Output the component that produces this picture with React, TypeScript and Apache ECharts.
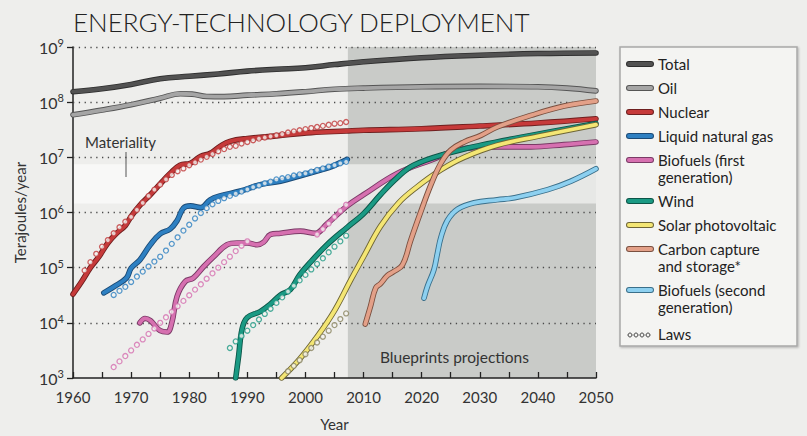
import React, { useEffect, useRef } from "react";
import * as echarts from "echarts";

type P = [number, number];

// ---------- data (year, terajoules/year) ----------
const total: P[] = [[1960,1.55e8],[1965,1.75e8],[1970,2.1e8],[1975,2.65e8],[1980,2.95e8],[1985,3.25e8],[1990,3.65e8],[1995,3.95e8],[2000,4.2e8],[2005,4.8e8],[2010,5.4e8],[2020,6.4e8],[2030,7.1e8],[2040,7.6e8],[2050,7.8e8]];
const oil: P[] = [[1960,5.9e7],[1965,7.2e7],[1970,9.0e7],[1975,1.18e8],[1978.5,1.42e8],[1980.5,1.4e8],[1983,1.27e8],[1986,1.26e8],[1990,1.34e8],[1995,1.42e8],[2000,1.55e8],[2005,1.72e8],[2010,1.8e8],[2020,1.9e8],[2030,1.93e8],[2040,1.9e8],[2045,1.8e8],[2050,1.6e8]];
const nuclear: P[] = [[1960,3.3e4],[1961.5,5.6e4],[1963,1.0e5],[1964.5,1.6e5],[1966,2.8e5],[1967.5,4.2e5],[1969,5.8e5],[1970,8.5e5],[1971.5,1.35e6],[1973.3,2.1e6],[1975,3.3e6],[1976.7,5.1e6],[1978.4,7.2e6],[1980.2,7.8e6],[1982,1.05e7],[1983.6,1.18e7],[1985.3,1.58e7],[1987,1.95e7],[1990,2.2e7],[1995,2.45e7],[2001,2.8e7],[2007,3.0e7],[2010,3.1e7],[2020,3.3e7],[2030,3.7e7],[2040,4.2e7],[2050,5.0e7]];
const lng: P[] = [[1965.3,3.5e4],[1967,4.5e4],[1969.2,6.5e4],[1970,9.8e4],[1971.5,1.38e5],[1973.3,2.6e5],[1975,4.1e5],[1976.7,5.0e5],[1977.9,7.1e5],[1979,1.2e6],[1980.2,1.32e6],[1982,1.23e6],[1983.6,1.7e6],[1985.3,2.0e6],[1988.8,2.45e6],[1992.2,3.2e6],[1995.7,3.7e6],[1999,4.6e6],[2002.6,5.9e6],[2004.5,6.8e6],[2007.2,9.2e6]];
const bio1: P[] = [[1971.5,1.0e4],[1972.4,1.2e4],[1973.3,1.1e4],[1975,7.2e3],[1976.2,6.8e3],[1977,1.0e4],[1977.9,3.0e4],[1979.3,5.6e4],[1980.7,6.5e4],[1982.5,1.05e5],[1984.2,1.58e5],[1986.5,2.6e5],[1988.2,2.8e5],[1990,2.8e5],[1991.7,2.6e5],[1992.8,2.9e5],[1994,4.0e5],[1995.7,4.2e5],[1999.1,4.6e5],[2001.7,4.2e5],[2003.7,6.2e5],[2007.2,1.32e6],[2010,2.1e6],[2015.8,5.1e6],[2021.6,8.9e6],[2027.3,1.45e7],[2033,1.55e7],[2038.8,1.55e7],[2044.5,1.7e7],[2050,1.9e7]];
const wind: P[] = [[1988,1.0e3],[1988.5,2.5e3],[1989.1,7.8e3],[1990,1.25e4],[1992.2,1.6e4],[1994,2.2e4],[1995.7,3.2e4],[1997.4,4.0e4],[1999,7.4e4],[2001,1.3e5],[2003.7,2.6e5],[2007.2,5.4e5],[2010,9.5e5],[2012.9,2.1e6],[2015.8,4.3e6],[2018.6,7.2e6],[2024.4,1.18e7],[2030.2,1.66e7],[2038.8,2.5e7],[2050,4.1e7]];
const solar: P[] = [[1995.9,1.0e3],[1999,2.2e3],[2002,5.6e3],[2005,1.66e4],[2007.8,6.0e4],[2010,1.58e5],[2012.9,5.6e5],[2016,1.48e6],[2019,2.8e6],[2023.3,5.9e6],[2027.3,1.0e7],[2033,1.66e7],[2040,2.4e7],[2050,3.9e7]];
const ccs: P[] = [[2010.3,9.5e3],[2011.2,2.0e4],[2012.1,4.3e4],[2012.9,5.1e4],[2014.1,7.2e4],[2015.2,8.5e4],[2016.7,1.12e5],[2018.1,3.1e5],[2019.8,1.0e6],[2021.6,3.2e6],[2023.3,7.8e6],[2025,1.35e7],[2027.3,1.9e7],[2030.2,2.5e7],[2033,3.55e7],[2038.8,5.75e7],[2044.5,8.5e7],[2050,1.05e8]];
const bio2: P[] = [[2020.4,2.8e4],[2021,4.6e4],[2022.1,9.1e4],[2022.7,1.8e5],[2023.3,3.5e5],[2024.4,7.1e5],[2026.2,1.15e6],[2029,1.5e6],[2033,1.7e6],[2036,1.85e6],[2041.7,2.6e6],[2045.7,3.7e6],[2050,6.2e6]];

// laws (fitted trends, drawn as hollow circles)
const nuclearLaw: P[] = [[1962,8.9e4],[1963,1.26e5],[1964,1.78e5],[1965,2.4e5],[1966,3.16e5],[1967,4.2e5],[1968,5.4e5],[1969,6.8e5],[1970,8.3e5],[1971,1.12e6],[1972,1.5e6],[1973,2.0e6],[1974,2.6e6],[1975,3.2e6],[1976,4.0e6],[1977,4.8e6],[1978,5.6e6],[1979,6.3e6],[1980,7.2e6],[1981,8.1e6],[1982,9.1e6],[1983,1.02e7],[1984,1.15e7],[1985,1.29e7],[1986,1.41e7],[1987,1.55e7],[1988,1.62e7],[1989,1.78e7],[1990,1.9e7],[1991,2.04e7],[1992,2.19e7],[1993,2.29e7],[1994,2.4e7],[1995,2.51e7],[1996,2.63e7],[1997,2.82e7],[1998,2.95e7],[1999,3.09e7],[2000,3.24e7],[2001,3.39e7],[2002,3.55e7],[2003,3.72e7],[2004,3.89e7],[2005,4.07e7],[2006,4.17e7],[2007,4.37e7]];
const lngLaw: P[] = [[1967,3.2e4],[1968,3.8e4],[1969,4.5e4],[1970,5.5e4],[1971,6.9e4],[1972,8.5e4],[1973,1.05e5],[1974,1.29e5],[1975,1.58e5],[1976,2.04e5],[1977,2.7e5],[1978,3.55e5],[1979,4.7e5],[1980,6.0e5],[1981,7.8e5],[1982,9.8e5],[1983,1.2e6],[1984,1.41e6],[1985,1.62e6],[1986,1.82e6],[1987,2.0e6],[1988,2.19e6],[1989,2.4e6],[1990,2.63e6],[1991,2.88e6],[1992,3.09e6],[1993,3.39e6],[1994,3.63e6],[1995,3.98e6],[1996,4.17e6],[1997,4.37e6],[1998,4.68e6],[1999,4.9e6],[2000,5.13e6],[2001,5.5e6],[2002,5.9e6],[2003,6.3e6],[2004,6.8e6],[2005,7.2e6],[2006,7.8e6],[2007,8.3e6]];
const bio1Law: P[] = [[1967,1.58e3],[1968,2.0e3],[1969,2.5e3],[1970,3.16e3],[1971,4.0e3],[1972,5.0e3],[1973,6.3e3],[1974,7.9e3],[1975,1.0e4],[1976,1.26e4],[1977,1.58e4],[1978,2.0e4],[1979,2.5e4],[1980,3.16e4],[1981,4.0e4],[1982,5.0e4],[1983,6.3e4],[1984,7.9e4],[1985,1.0e5],[1986,1.26e5],[1987,1.58e5],[1988,2.0e5],[1989,2.5e5],[1990,3.0e5]];
const bio1Law2: P[] = [[2002,4.0e5],[2003,5.0e5],[2004,6.3e5],[2005,8.3e5],[2006,1.07e6],[2007,1.38e6]];
const windLaw: P[] = [[1987,3.5e3],[1988,4.6e3],[1989,5.8e3],[1990,7.2e3],[1991,9.1e3],[1992,1.15e4],[1993,1.45e4],[1994,1.8e4],[1995,2.3e4],[1996,2.9e4],[1997,3.7e4],[1998,4.7e4],[1999,5.9e4],[2000,7.4e4],[2001,9.3e4],[2002,1.17e5],[2003,1.48e5],[2004,1.9e5],[2005,2.4e5],[2006,3.0e5],[2007,3.8e5]];
const solarLaw: P[] = [[1997,1.32e3],[1998,1.66e3],[1999,2.1e3],[2000,2.7e3],[2001,3.5e3],[2002,4.4e3],[2003,5.6e3],[2004,7.2e3],[2005,9.1e3],[2006,1.17e4],[2007,1.48e4]];

// gridline levels and shaded zones
const gridLevels = [1e4, 1e5, 1e6, 1e7, 1e8, 1e9];
const projectionStart = 2007.3;
const projectionEnd = 2050;
const materialityLow = 1.45e6;
const materialityHigh = 7.5e6;

// ---------- styling ----------
const FONT = "Lato, 'Open Sans', sans-serif";
const lines = [
  { name: "Total", data: total, color: "#525252", edge: "#2e2e2e" },
  { name: "Oil", data: oil, color: "#a5a5a5", edge: "#555555" },
  { name: "Nuclear", data: nuclear, color: "#c63a3a", edge: "#6e1f1f" },
  { name: "Liquid natural gas", data: lng, color: "#2e80c2", edge: "#1b4a76" },
  { name: "Biofuels (first\ngeneration)", data: bio1, color: "#d670b0", edge: "#7a3a66" },
  { name: "Wind", data: wind, color: "#1a9a84", edge: "#0c5548" },
  { name: "Solar photovoltaic", data: solar, color: "#f4e674", edge: "#6e6535" },
  { name: "Carbon capture\nand storage*", data: ccs, color: "#e3a088", edge: "#7a5040" },
  { name: "Biofuels (second\ngeneration)", data: bio2, color: "#8dd0f0", edge: "#3a6f8a" },
];
const laws = [
  { data: nuclearLaw, color: "#c0393b" },
  { data: lngLaw, color: "#2d7fc1" },
  { data: bio1Law, color: "#d46fb0" },
  { data: bio1Law2, color: "#d46fb0" },
  { data: windLaw, color: "#1f9a84" },
  { data: solarLaw, color: "#8a8560" },
];

function buildOption() {
  const series: any[] = [];
  series.push({
    type: "line",
    data: [],
    z: -1,
    silent: true,
    markArea: {
      silent: true,
      z: -1,
      data: [
        [{ xAxis: projectionStart, yAxis: 1e3, itemStyle: { color: "#c9cbc8" } }, { xAxis: projectionEnd, yAxis: 1e9 }],
        [{ xAxis: 1960, yAxis: materialityLow, itemStyle: { color: "#f8f8f7" } }, { xAxis: projectionStart, yAxis: materialityHigh }],
        [{ xAxis: projectionStart, yAxis: materialityLow, itemStyle: { color: "#e7e8e6" } }, { xAxis: projectionEnd, yAxis: materialityHigh }],
      ],
    },
  });
  series.push({
    type: "line",
    data: [],
    z: 1,
    silent: true,
    markLine: {
      silent: true,
      z: 1,
      symbol: "none",
      label: { show: false },
      lineStyle: { color: "#4a4a4a", width: 1.3, type: [1.3, 4.5] },
      data: gridLevels.map((v) => ({ yAxis: v })),
    },
  });
  lines.forEach((l) => {
    const common = { type: "line", data: l.data, smooth: 0.4, symbol: "none", silent: true, z: 3 };
    series.push({ ...common, name: l.name + "-edge", lineStyle: { color: l.edge, width: 5.6, cap: "round", join: "round" } });
    series.push({ ...common, name: l.name, lineStyle: { color: l.color, width: 3.8, cap: "round", join: "round" } });
  });
  laws.forEach((w, i) => {
    series.push({
      type: "scatter",
      name: "Laws" + i,
      data: w.data,
      symbol: "circle",
      symbolSize: 5,
      z: 5,
      silent: true,
      itemStyle: { color: "#f4f2f0", borderColor: w.color, borderWidth: 1.3 },
    });
  });

  // legend graphic
  const legendG: any[] = [];
  legendG.push({
    type: "rect",
    shape: { x: 620, y: 47, width: 177, height: 299 },
    style: { fill: "#f4f4f2", stroke: "#a8a8a8", lineWidth: 1.5, shadowBlur: 2, shadowColor: "rgba(0,0,0,0.25)", shadowOffsetX: 1, shadowOffsetY: 1 },
  });
  let y = 64;
  lines.forEach((l) => {
    legendG.push({ type: "line", shape: { x1: 629, y1: y, x2: 651, y2: y }, style: { stroke: l.edge, lineWidth: 6, lineCap: "round" } });
    legendG.push({ type: "line", shape: { x1: 629, y1: y, x2: 651, y2: y }, style: { stroke: l.color, lineWidth: 4, lineCap: "round" } });
    legendG.push({ type: "text", x: 658, y: y - 9, style: { text: l.name, fontSize: 15, fontFamily: FONT, fill: "#222", lineHeight: 17, verticalAlign: "top" } });
    const n = l.name.split("\n").length;
    y += 24 + (n - 1) * 17;
  });
  y += 3;
  [630, 636, 642, 648].forEach((cx) => {
    legendG.push({ type: "circle", shape: { cx, cy: y + 1, r: 2 }, style: { fill: "#f4f4f2", stroke: "#444", lineWidth: 1 } });
  });
  legendG.push({ type: "text", x: 658, y: y - 9, style: { text: "Laws", fontSize: 15, fontFamily: FONT, fill: "#222", lineHeight: 17, verticalAlign: "top" } });

  return {
    animation: false,
    backgroundColor: "#eeeeec",
    textStyle: { fontFamily: FONT },
    title: {
      text: "ENERGY-TECHNOLOGY DEPLOYMENT",
      left: 68,
      top: 4,
      textStyle: { fontSize: 26, fontWeight: 300, color: "#222", fontFamily: FONT },
    },
    grid: { left: 73, right: 211, top: 47, bottom: 53 },
    xAxis: {
      type: "value",
      min: 1960,
      max: 2050,
      interval: 5,
      name: "Year",
      nameLocation: "middle",
      nameGap: 38,
      nameTextStyle: { fontSize: 15, color: "#333", fontFamily: FONT },
      axisLine: { show: true, lineStyle: { color: "#222", width: 1.5 } },
      axisTick: { show: true, inside: true, length: 6, lineStyle: { color: "#222", width: 1.3 } },
      axisLabel: {
        formatter: (v: number) => (v % 10 === 0 ? String(v) : ""),
        fontSize: 15,
        color: "#333",
        margin: 11,
        fontFamily: FONT,
      },
      splitLine: { show: false },
    },
    yAxis: {
      type: "log",
      logBase: 10,
      min: 1e3,
      max: 1e9,
      splitNumber: 6,
      name: "Terajoules/year",
      nameLocation: "middle",
      nameGap: 46,
      nameRotate: 90,
      nameTextStyle: { fontSize: 15, color: "#333", fontFamily: FONT },
      axisLine: { show: true, lineStyle: { color: "#222", width: 1.5 } },
      axisTick: { show: true, length: 6, lineStyle: { color: "#222", width: 1.3 } },
      axisLabel: {
        formatter: (v: number) => `{b|10}{s|${Math.round(Math.log10(v))}}`,
        margin: 9,
        rich: {
          b: { fontSize: 16, color: "#333", lineHeight: 20, fontFamily: FONT },
          s: { fontSize: 11, color: "#333", lineHeight: 11, padding: [0, 0, 9, 0], fontFamily: FONT },
        },
      },
      splitLine: { show: false },
    },
    graphic: [
      { type: "text", x: 85, y: 142, style: { text: "Materiality", fontSize: 15, fontFamily: FONT, fill: "#333", verticalAlign: "middle" } },
      { type: "line", shape: { x1: 126, y1: 152, x2: 126, y2: 177 }, style: { stroke: "#555", lineWidth: 1 } },
      { type: "text", x: 380, y: 357, style: { text: "Blueprints projections", fontSize: 15.5, fontFamily: FONT, fill: "#333", verticalAlign: "middle" } },
      ...legendG,
    ],
    series,
  };
}

export default function App() {
  const ref = useRef<HTMLDivElement>(null);
  useEffect(() => {
    const chart = echarts.init(ref.current!, null, { renderer: "svg" });
    chart.setOption(buildOption() as any);
    return () => chart.dispose();
  }, []);
  return (
    <div
      ref={ref}
      style={{ position: "fixed", left: 0, top: 0, width: 807, height: 436, background: "#eeeeec" }}
    />
  );
}
